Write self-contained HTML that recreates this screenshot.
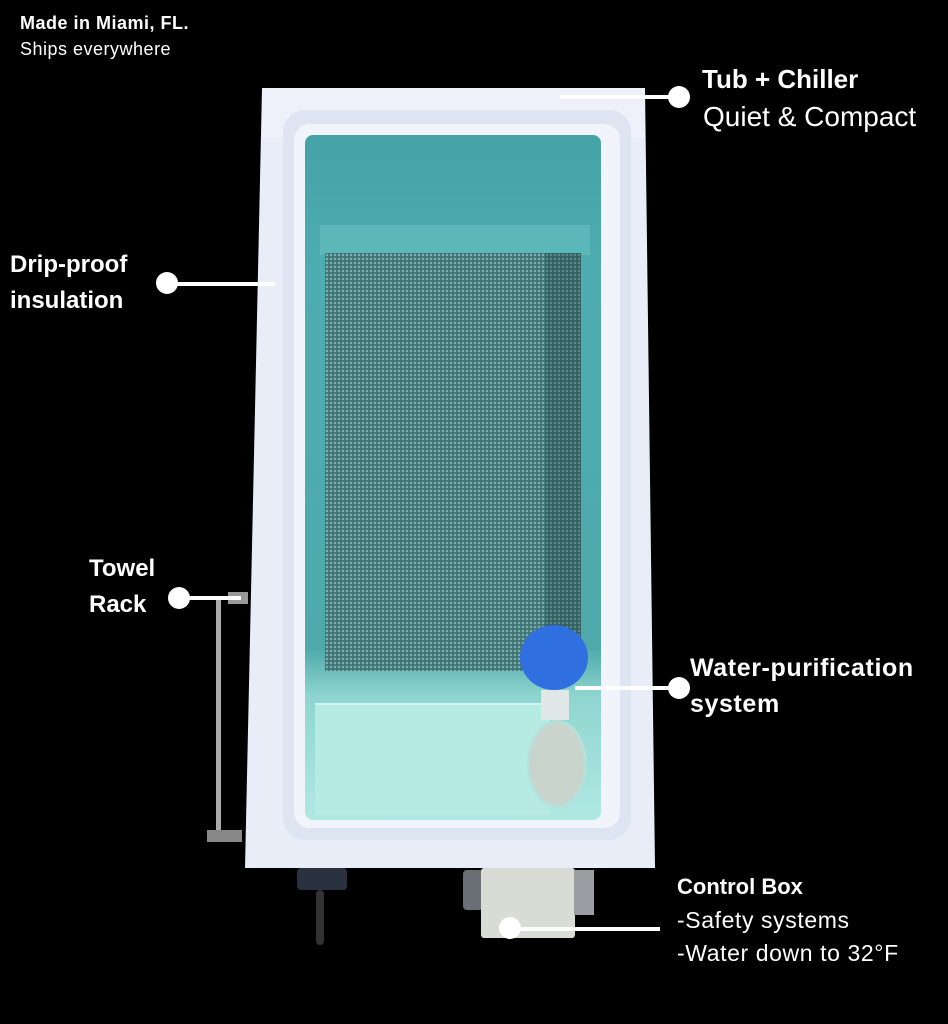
<!DOCTYPE html>
<html><head><meta charset="utf-8"><style>
body{margin:0;width:948px;height:1024px;background:#000;position:relative;overflow:hidden;font-family:"Liberation Sans",sans-serif;color:#fff}
.a{position:absolute}
.t{position:absolute;white-space:nowrap;line-height:1}
.dot{position:absolute;width:22px;height:22px;border-radius:50%;background:#fff}
.ln{position:absolute;height:4px;background:#fff}
</style></head><body>
<!-- tub outer -->
<div class="a" style="left:245px;top:88px;width:410px;height:780px;background:#e9edf8;clip-path:polygon(17px 0,400px 0,410px 780px,0 780px)"></div>
<div class="a" style="left:262px;top:88px;width:383px;height:50px;background:#eef1fa"></div>
<!-- inner rim -->
<div class="a" style="left:283px;top:110px;width:348px;height:730px;border-radius:22px;background:#dfe4f3"></div>
<div class="a" style="left:294px;top:124px;width:326px;height:704px;border-radius:16px;background:#f2f4fb"></div>
<!-- water -->
<div class="a" style="left:305px;top:135px;width:296px;height:685px;border-radius:8px;background:linear-gradient(#45a3a7 0%,#4eadb0 20%,#4fa9ab 75%,#8fd6d0 82%,#b0e8e2 100%)"></div>
<div class="a" style="left:320px;top:225px;width:270px;height:30px;background:#5cb8b8"></div>
<!-- mat -->
<div class="a" style="left:325px;top:253px;width:256px;height:418px;background:#3f7474;background-image:radial-gradient(#7fb2b0 1px,transparent 1.5px);background-size:4px 4px"></div>
<div class="a" style="left:545px;top:253px;width:36px;height:418px;background:rgba(20,50,50,.3)"></div>
<!-- step -->
<div class="a" style="left:315px;top:703px;width:235px;height:110px;background:#b6ebe4;border-top:2px solid #d2f4ef"></div>
<!-- valve -->
<div class="a" style="left:520px;top:625px;width:68px;height:65px;border-radius:50%;background:#2f6fe0"></div>
<div class="a" style="left:541px;top:690px;width:28px;height:30px;background:#dfe8e6"></div>
<div class="a" style="left:527px;top:720px;width:54px;height:82px;border-radius:50%;background:#c9d4cc;border:3px solid #b6e0da"></div>
<!-- towel rack -->
<div class="a" style="left:216px;top:598px;width:5px;height:240px;background:#aaa"></div>
<div class="a" style="left:207px;top:830px;width:35px;height:12px;background:#888"></div>
<div class="a" style="left:228px;top:592px;width:20px;height:12px;background:#999"></div>
<!-- bottom parts -->
<div class="a" style="left:297px;top:868px;width:50px;height:22px;background:#2a3240;border-radius:4px"></div>
<div class="a" style="left:316px;top:890px;width:8px;height:55px;background:#333;border-radius:4px"></div>
<div class="a" style="left:463px;top:870px;width:20px;height:40px;background:#6a6f76;border-radius:4px"></div>
<div class="a" style="left:481px;top:868px;width:94px;height:70px;background:#d8dcd4;border-radius:3px"></div>
<div class="a" style="left:574px;top:870px;width:20px;height:45px;background:#9a9ea2"></div>
<!-- connectors -->
<div class="ln" style="left:560px;top:95px;width:119px"></div><div class="dot" style="left:668px;top:86px"></div>
<div class="ln" style="left:167px;top:282px;width:108px"></div><div class="dot" style="left:156px;top:272px"></div>
<div class="ln" style="left:179px;top:596px;width:62px"></div><div class="dot" style="left:168px;top:587px"></div>
<div class="ln" style="left:575px;top:686px;width:104px"></div><div class="dot" style="left:668px;top:677px"></div>
<div class="ln" style="left:510px;top:927px;width:150px"></div><div class="dot" style="left:499px;top:917px"></div>
<!-- labels -->
<div class="t" style="left:20px;top:14px;font-size:18px;font-weight:bold;letter-spacing:.5px">Made in Miami, FL.</div>
<div class="t" style="left:20px;top:40px;font-size:18px;letter-spacing:.5px">Ships everywhere</div>
<div class="t" style="left:702px;top:66px;font-size:26px;font-weight:bold">Tub + Chiller</div>
<div class="t" style="left:703px;top:103px;font-size:28px">Quiet &amp; Compact</div>
<div class="t" style="left:10px;top:253px;font-size:24px;font-weight:bold">Drip-proof</div>
<div class="t" style="left:10px;top:289px;font-size:24px;font-weight:bold">insulation</div>
<div class="t" style="left:89px;top:557px;font-size:24px;font-weight:bold">Towel</div>
<div class="t" style="left:89px;top:593px;font-size:24px;font-weight:bold">Rack</div>
<div class="t" style="left:690px;top:656px;font-size:25px;font-weight:bold;letter-spacing:.6px">Water-purification</div>
<div class="t" style="left:690px;top:692px;font-size:25px;font-weight:bold;letter-spacing:.6px">system</div>
<div class="t" style="left:677px;top:876px;font-size:22px;font-weight:bold">Control Box</div>
<div class="t" style="left:677px;top:909px;font-size:23px;letter-spacing:.6px">-Safety systems</div>
<div class="t" style="left:677px;top:942px;font-size:23px;letter-spacing:.6px">-Water down to 32°F</div>
</body></html>
